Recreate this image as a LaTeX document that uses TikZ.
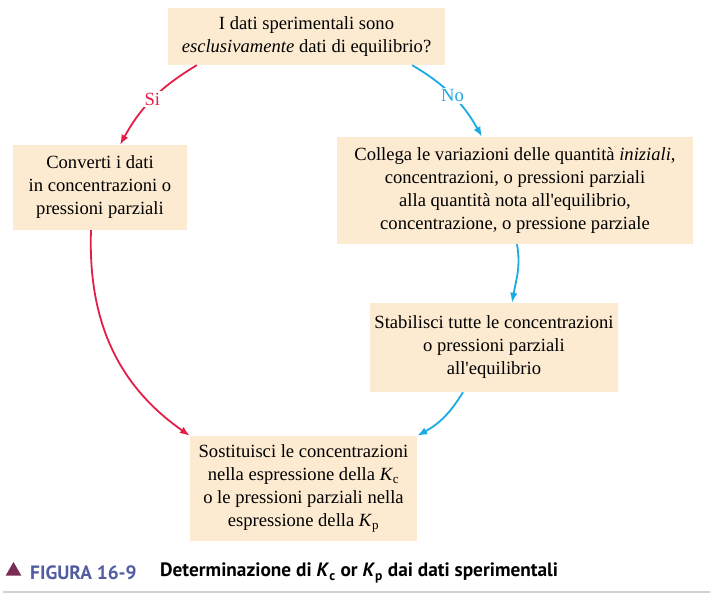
\documentclass[tikz,border=0pt]{standalone}
\usepackage{fontspec}
\setmainfont{Liberation Serif}
\newfontfamily\capfont{PT Sans}
\usetikzlibrary{shapes, arrows.meta}
\definecolor{pesca}{RGB}{252,235,209}
\definecolor{rosso}{RGB}{228,30,72}
\definecolor{azzurro}{RGB}{28,170,228}
\definecolor{figblu}{RGB}{82,92,160}
\definecolor{figvino}{RGB}{122,45,82}
\tikzstyle{box} = [rectangle, fill=pesca, text centered, align=center, inner sep=0pt, font=\fontsize{18.6}{23}\selectfont]
\tikzstyle{frecciasi} = [draw=rosso, line width=1.8pt, -{Latex[length=10pt,width=7.5pt]}]
\tikzstyle{freccia} = [draw=azzurro, line width=1.8pt, -{Latex[length=10pt,width=7.5pt]}]
\tikzstyle{etichetta} = [fill=white, inner sep=2pt, font=\fontsize{18.6}{20}\selectfont]

\begin{document}
\begin{tikzpicture}[x=1pt, y=1pt]
        \useasboundingbox (0,0) rectangle (712,-602);
        % Nodes
        \node (domanda) [box, minimum width=277pt, minimum height=57pt] at (306.5,-36.5) {I dati sperimentali sono\\ \textit{esclusivamente} dati di equilibrio?};
        \node (converti) [box, minimum width=174pt, minimum height=85pt] at (100,-187.5) {Converti i dati\\ in concentrazioni o\\ pressioni parziali};
        \node (collega) [box, minimum width=356pt, minimum height=107pt] at (515,-190.5) {Collega le variazioni delle quantità \textit{iniziali},\\ concentrazioni, o pressioni parziali\\ alla quantità nota all\textquotesingle equilibrio,\\ concentrazione, o pressione parziale};
        \node (stabilisci) [box, minimum width=248pt, minimum height=89pt] at (494,-347.5) {Stabilisci tutte le concentrazioni\\ o pressioni parziali\\ all\textquotesingle equilibrio};
        \node (sostituisci) [box, minimum width=227pt, minimum height=105pt] at (303.5,-488.5) {Sostituisci le concentrazioni\\ nella espressione della \textit{K}\textsubscript{c}\\ o le pressioni parziali nella\\ espressione della \textit{K}\textsubscript{p}};

        % Arrows
        \draw [frecciasi] ([xshift=29pt]domanda.south west) to[bend right=15] node[etichetta, text=rosso] {Si} ([xshift=20pt]converti.north);
        \draw [freccia] ([xshift=-33pt]domanda.south east) to[bend left=15] node[etichetta, text=azzurro] {No} ([xshift=-33pt]collega.north);
        \draw [frecciasi] ([xshift=-9pt]converti.south) to[out=-92, in=145] (sostituisci.north west);
        \draw [freccia] ([xshift=2pt]collega.south) to[out=-80, in=80] ([xshift=18pt]stabilisci.north);
        \draw [freccia] ([xshift=-31pt]stabilisci.south) to[bend left=15] (sostituisci.north east);

        % Caption
        \node (triangolo) [regular polygon, regular polygon sides=3, fill=figvino, minimum size=18pt, inner sep=0pt] at (13.5,-571) {};
        \node (figura) [anchor=west, inner sep=0pt, text=figblu, font=\capfont\bfseries\fontsize{19.3}{22}\selectfont] at (30,-573) {FIGURA 16-9};
        \node (titolo) [anchor=west, inner sep=0pt, font=\capfont\bfseries\fontsize{19.3}{22}\selectfont] at (160,-573) {Determinazione di \textit{K}\textsubscript{c} or \textit{K}\textsubscript{p} dai dati sperimentali};
        \draw [black!18, line width=2pt] (3,-592) -- (710,-592);

    \end{tikzpicture}
\end{document}
